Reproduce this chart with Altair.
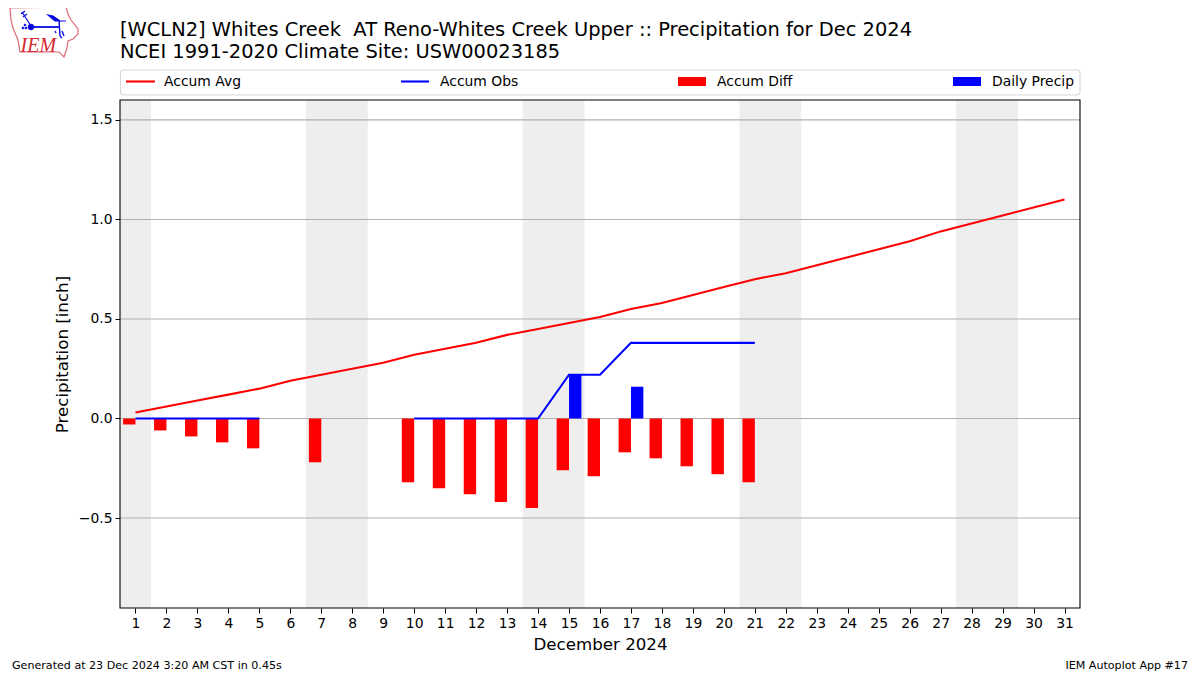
import urllib.parse
import altair as alt
import pandas as pd

DAYS = list(range(1, 32))
ACCUM_AVG = [0.03, 0.06, 0.09, 0.12, 0.15, 0.19, 0.22, 0.25, 0.28, 0.32, 0.35, 0.38, 0.42, 0.45, 0.48, 0.51,
             0.55, 0.58, 0.62, 0.66, 0.70, 0.73, 0.77, 0.81, 0.85, 0.89, 0.94, 0.98, 1.02, 1.06, 1.10]
ACCUM_OBS = [0, 0, 0, 0, 0, None, None, None, None, 0, 0, 0, 0, 0, 0.22, 0.22,
             0.38, 0.38, 0.38, 0.38, 0.38] + [None] * 10
DIFF_DAYS = [1, 2, 3, 4, 5, 7, 10, 11, 12, 13, 14, 15, 16, 17, 18, 19, 20, 21]
DIFF_VALS = [-0.03, -0.06, -0.09, -0.12, -0.15, -0.22, -0.32, -0.35, -0.38, -0.42, -0.45,
             -0.26, -0.29, -0.17, -0.20, -0.24, -0.28, -0.32]
PRECIP_DAYS = [15, 17]
PRECIP_VALS = [0.22, 0.16]
WEEKEND_START = [0.5, 6.5, 13.5, 20.5, 27.5]
WEEKEND_END = [1.5, 8.5, 15.5, 22.5, 29.5]
Y_TICKS = [-0.5, 0.0, 0.5, 1.0, 1.5]
TITLE = ["[WCLN2] Whites Creek\u00a0 AT Reno-Whites Creek Upper :: Precipitation for Dec 2024",
         "NCEI 1991-2020 Climate Site: USW00023185"]
FONT = "DejaVu Sans"

xs = alt.Scale(domain=[0.5, 31.5], nice=False, zero=False)
ys = alt.Scale(domain=[-0.952, 1.6], nice=False, zero=False)
xa = alt.Axis(title="December 2024", values=DAYS, format="d", grid=False, domain=False, labelFlush=False,
              labelOverlap=False, tickColor="black", tickSize=5, labelColor="black", labelFontSize=13.9,
              labelFont=FONT, labelPadding=3, titleFont=FONT, titleFontSize=16.67, titleFontWeight="normal",
              titleColor="black", titlePadding=7)
ya = alt.Axis(title="Precipitation [inch]", values=Y_TICKS, format=".1f", grid=False, domain=False,
              tickColor="black", tickSize=5, labelColor="black", labelFontSize=13.9, labelFont=FONT,
              labelPadding=3, titleFont=FONT, titleFontSize=16.67, titleFontWeight="normal",
              titleColor="black", titlePadding=7)
X = lambda f: alt.X(f, type="quantitative", scale=xs, axis=xa)
Y = lambda f: alt.Y(f, type="quantitative", scale=ys, axis=ya)

daily = pd.DataFrame({"day": DAYS, "avg": ACCUM_AVG, "obs": ACCUM_OBS})
diff = pd.DataFrame({"day": DIFF_DAYS, "v": DIFF_VALS, "zero": 0.0})
precip = pd.DataFrame({"day": PRECIP_DAYS, "v": PRECIP_VALS, "zero": 0.0})
weekend = pd.DataFrame({"a": WEEKEND_START, "b": WEEKEND_END})
grid = pd.DataFrame({"y": Y_TICKS})
one = pd.DataFrame({"a": [0]})

bands = alt.Chart(weekend).mark_rect(color="#eeeeee").encode(x=X("a"), x2="b", y=alt.value(0), y2=alt.value(508))
rules = alt.Chart(grid).mark_rule(color="#b0b0b0", strokeWidth=1.1).encode(y=Y("y"))
diff_b = (alt.Chart(diff).transform_calculate(l="datum.day - 0.4")
          .mark_rect(color="#ff0000").encode(x=X("l:Q"), x2="day", y=Y("v"), y2="zero"))
prec_b = (alt.Chart(precip).transform_calculate(r="datum.day + 0.4")
          .mark_rect(color="#0000ff").encode(x=X("day"), x2="r:Q", y=Y("v"), y2="zero"))
avg_l = alt.Chart(daily).mark_line(color="#ff0000", strokeWidth=2.08).encode(x=X("day"), y=Y("avg"))
obs_l = alt.Chart(daily).mark_line(color="#0000ff", strokeWidth=2.08).encode(x=X("day"), y=Y("obs"))
frame = alt.Chart(one).mark_rect(fill=None, stroke="black", strokeWidth=1.1).encode(
    x=alt.value(0), x2=alt.value(960), y=alt.value(0), y2=alt.value(508))


def txt(s, x, y, size=13.9, align="left", **kw):
    d = pd.DataFrame({"t": [s]})
    return alt.Chart(d).mark_text(align=align, baseline="middle", font=kw.pop("font", FONT), fontSize=size,
                                  color=kw.pop("color", "black"), **kw).encode(
        text="t:N", x=alt.value(x), y=alt.value(y))


legend_box = alt.Chart(one).mark_rect(fill="white", stroke="#d8d8d8", strokeWidth=1.1, cornerRadius=3).encode(
    x=alt.value(0.5), x2=alt.value(960), y=alt.value(-30), y2=alt.value(-5))
leg = [legend_box]
for name, color, x0, x1, tx, kind in [("Accum Avg", "#ff0000", 6, 35, 44, "l"),
                                      ("Accum Obs", "#0000ff", 281, 309, 320, "l"),
                                      ("Accum Diff", "#ff0000", 558, 586, 597, "r"),
                                      ("Daily Precip", "#0000ff", 833, 861, 872, "r")]:
    if kind == "l":
        m = alt.Chart(one).mark_rule(color=color, strokeWidth=2.08).encode(
            x=alt.value(x0), x2=alt.value(x1), y=alt.value(-18.5))
    else:
        m = alt.Chart(one).mark_rect(color=color).encode(
            x=alt.value(x0), x2=alt.value(x1), y=alt.value(-23), y2=alt.value(-14))
    leg += [m, txt(name, tx, -18.5)]

LOGO_SVG = ("<svg xmlns='http://www.w3.org/2000/svg' width='90' height='65' viewBox='0 0 90 65'>"
            "<path d='M10 8 L66 7 L68 14 L71 20 L78 29 L78 34 L73 39 L68 41 L67 48 L64 57 L59 52 L20 52 "
            "L18 40 L13 28 L11 20 Z' fill='none' stroke='#dc6a72' stroke-width='1.2'/>"
            "<g stroke='#0808e0' fill='#0808e0'>"
            "<path d='M22 12 L31 26' stroke-width='1.2' fill='none'/><path d='M21 14 L25 11 M23 17 L27 14' stroke-width='1.2'/>"
            "<circle cx='31' cy='27' r='2.8'/><path d='M32 27 L60 27' stroke-width='1.8'/>"
            "<path d='M48 15 L53 16 L60 21 L66 21 L55 21 Z' stroke-width='1.2'/>"
            "<path d='M59 20 L60 36 M55 31 L56 33 M62 31 L64 36 M60 36 L62 38' stroke-width='1.4'/>"
            "<circle cx='26' cy='28' r='0.9'/><circle cx='23' cy='28' r='0.9'/><circle cx='25' cy='25' r='0.9'/>"
            "</g></svg>")
logo = alt.Chart(pd.DataFrame({"u": ["data:image/svg+xml," + urllib.parse.quote(LOGO_SVG)]})).mark_image(
    width=90, height=65, align="left", baseline="top", aspect=False).encode(
    url="u:N", x=alt.value(-120), y=alt.value(-100))
logo_t = txt("IEM", -99.5, -54, size=20, font="Liberation Serif", color="#d42a30", fontStyle="italic")

foot_l = txt("Generated at 23 Dec 2024 3:20 AM CST in 0.45s", -108, 566, size=11.1)
foot_r = txt("IEM Autoplot App #17", 1068, 566, size=11.1, align="right")

chart = alt.layer(bands, rules, diff_b, prec_b, avg_l, obs_l, frame, *leg, logo, logo_t, foot_l, foot_r).properties(
    width=960, height=508,
    padding={"left": 112, "top": 92, "right": 112, "bottom": 66},
    autosize=alt.AutoSizeParams(type="none"),
    title=alt.TitleParams(text=TITLE, anchor="start", frame="group", font=FONT, fontSize=19.44,
                          fontWeight="normal", color="black", offset=0, dy=62, lineHeight=22),
).configure_view(stroke=None)

chart.save("out.html", embed_options={"renderer": "svg", "actions": False})
